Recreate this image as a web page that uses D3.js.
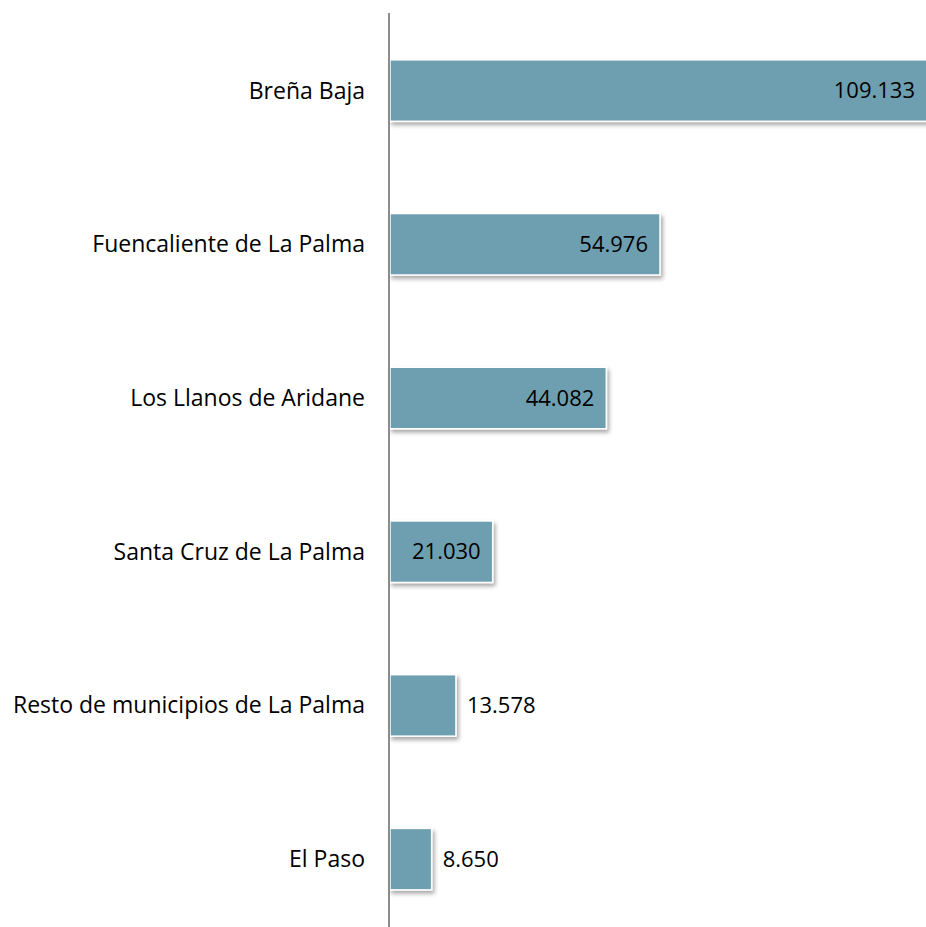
<!DOCTYPE html>
<html>
<head>
<meta charset="utf-8">
<script src="https://cdn.jsdelivr.net/npm/d3@7"></script>
<style>
  body { margin: 0; background: #fff; }
  text { font-family: "Open Sans", sans-serif; font-size: 22px; fill: #000; }
  text.cat { font-size: 23px; }
</style>
</head>
<body>
<div id="chart"></div>
<script>
const municipios = ["Breña Baja", "Fuencaliente de La Palma", "Los Llanos de Aridane",
  "Santa Cruz de La Palma", "Resto de municipios de La Palma", "El Paso"];
const valores = [109.133, 54.976, 44.082, 21.030, 13.578, 8.650];
const etiquetas = ["109.133", "54.976", "44.082", "21.030", "13.578", "8.650"];

const width = 926;
const height = 927;
const x0 = 389;

const svg = d3.select("#chart").append("svg")
  .attr("width", width)
  .attr("height", height);

const defs = svg.append("defs");
const f = defs.append("filter").attr("id", "sombra")
  .attr("x", "-10%").attr("y", "-10%").attr("width", "130%").attr("height", "140%");
f.append("feDropShadow")
  .attr("dx", 2).attr("dy", 3).attr("stdDeviation", 2)
  .attr("flood-color", "#000").attr("flood-opacity", 0.35);

const x = d3.scaleLinear().domain([0, 109.133]).range([x0, 927]);
const y = d3.scaleBand().domain(municipios).range([13.7, 936]).paddingInner(0.6).paddingOuter(0.3);

const data = municipios.map((m, i) => ({ m, v: valores[i], t: etiquetas[i] }));

svg.selectAll("rect.bar")
  .data(data)
  .join("rect")
  .attr("class", "bar")
  .attr("x", x0 + 1)
  .attr("y", d => y(d.m))
  .attr("width", d => x(d.v) - x0 - 1)
  .attr("height", y.bandwidth())
  .attr("fill", "#6e9fb0")
  .attr("stroke", "#fff")
  .attr("stroke-width", 1.5)
  .attr("filter", "url(#sombra)");

// eje vertical
svg.append("line")
  .attr("x1", x0).attr("x2", x0)
  .attr("y1", 13).attr("y2", height)
  .attr("stroke", "#8c8c8c")
  .attr("stroke-width", 2);

// etiquetas de categoría
svg.selectAll("text.cat")
  .data(data)
  .join("text")
  .attr("class", "cat")
  .attr("x", 365)
  .attr("y", d => y(d.m) + y.bandwidth() / 2)
  .attr("dy", "0.35em")
  .attr("text-anchor", "end")
  .text(d => d.m);

// etiquetas de valor
svg.selectAll("text.val")
  .data(data)
  .join("text")
  .attr("class", "val")
  .attr("x", d => d.v > 20 ? x(d.v) - 12 : x(d.v) + 11)
  .attr("y", d => y(d.m) + y.bandwidth() / 2)
  .attr("dy", "0.35em")
  .attr("text-anchor", d => d.v > 20 ? "end" : "start")
  .text(d => d.t);
</script>
</body>
</html>
